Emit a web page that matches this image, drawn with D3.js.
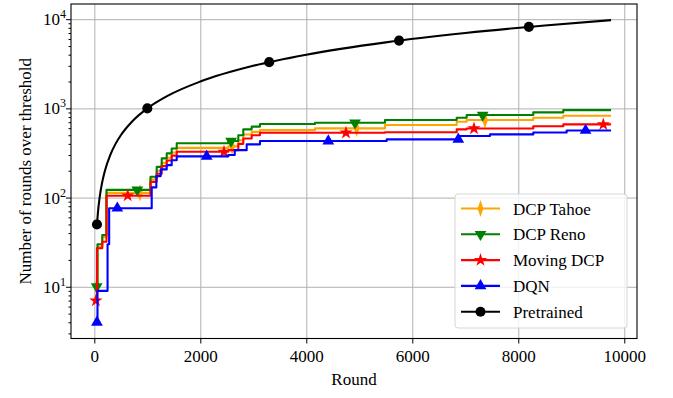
<!DOCTYPE html>
<html>
<head>
<meta charset="utf-8">
<script src="https://cdn.jsdelivr.net/npm/d3@7"></script>
<style>
  body { margin: 0; background: #fff; }
  svg text { font-family: "Liberation Serif", "DejaVu Serif", serif; fill: #000; }
  .gridLine line { stroke: #b0b0b0; stroke-width: 1; }
  .gridLine path { display: none; }
</style>
</head>
<body>
<div id="chart"></div>
<script>
// [round, value] pairs, drawn as steps
var tahoeSteps = [[45, 10], [60, 28], [150, 36], [230, 113], [1060, 160], [1177, 200], [1272, 245], [1366, 280], [1460, 320], [1555, 361],
  [2528, 375], [2717, 440], [2811, 510], [2970, 545], [3126, 571], [4164, 597], [5485, 650], [6838, 708], [7026, 740], [8283, 785], [8849, 826], [9750, 826]];
var renoSteps = [[45, 10], [60, 30], [150, 38], [230, 122], [1060, 171], [1177, 221], [1272, 275], [1366, 313], [1460, 355], [1555, 407],
  [2528, 430], [2717, 500], [2811, 582], [2970, 625], [3126, 667], [4164, 689], [5485, 740], [6838, 785], [7026, 842], [8283, 902], [8849, 955], [9750, 955]];
var movingSteps = [[30, 7], [50, 27], [150, 32], [230, 105], [1060, 150], [1177, 185], [1272, 225], [1366, 260], [1460, 295], [1555, 326],
  [2528, 340], [2717, 400], [2811, 460], [2970, 500], [3126, 533], [5485, 540], [6838, 582], [7026, 595], [8283, 631], [8849, 661], [9750, 661]];
var dqnSteps = [[50, 4], [60, 9], [215, 9], [250, 30], [280, 76], [1083, 130], [1170, 174], [1253, 207], [1366, 231], [1460, 262], [1555, 290],
  [2528, 300], [2650, 340], [2875, 395], [3126, 430], [5517, 449], [6900, 490], [7466, 511], [8283, 537], [8913, 566], [9750, 566]];
var pretrained = [[50, 50], [70, 70], [100, 100], [150, 150], [200, 200], [300, 300], [400, 400], [500, 500], [700, 700], [1000, 1000],
  [1400, 1400], [2000, 2000], [3000, 3000], [4000, 4000], [5500, 5500], [7000, 7000], [8500, 8500], [9750, 9750]];

// rounds where the markers sit
var tahoeMarks = [45, 862, 2600, 4950, 7372];
var renoMarks = [45, 811, 2580, 4919, 7328];
var movingMarks = [30, 630, 2447, 4749, 7164, 9604];
var dqnMarks = [50, 434, 2120, 4415, 6868, 9270];
var pretrainedMarks = [50, 1000, 3300, 5750, 8200];

var seriesNames = ["DCP Tahoe", "DCP Reno", "Moving DCP", "DQN", "Pretrained"];
var xTicks = [0, 2000, 4000, 6000, 8000, 10000];
var yTicks = [10, 100, 1000, 10000];

var width = 673;
var height = 398;
var margin = { top: 4, right: 36, bottom: 59.5, left: 71 };
var svg, xscale, yscale;

var series = [
  { name: seriesNames[0], color: "#ffa500", data: tahoeSteps, marks: tahoeMarks, marker: "diamond", step: true },
  { name: seriesNames[1], color: "#008000", data: renoSteps, marks: renoMarks, marker: "down", step: true },
  { name: seriesNames[2], color: "#ff0000", data: movingSteps, marks: movingMarks, marker: "star", step: true },
  { name: seriesNames[3], color: "#0000ff", data: dqnSteps, marks: dqnMarks, marker: "up", step: true },
  { name: seriesNames[4], color: "#000000", data: pretrained, marks: pretrainedMarks, marker: "circle", step: false }
];

function initSvg() {
  svg = d3.select("#chart").append("svg")
    .attr("width", width)
    .attr("height", height);
}

function initScale() {
  xscale = d3.scaleLinear()
    .domain([-440, 10240])
    .range([margin.left, width - margin.right]);
  yscale = d3.scaleLog()
    .domain([2.63, 14800])
    .range([height - margin.bottom, margin.top]);
}

function drawGridLines() {
  svg.append("g")
    .classed("gridLine", true)
    .attr("transform", "translate(0," + (height - margin.bottom) + ")")
    .call(d3.axisBottom(xscale).tickValues(xTicks)
      .tickSize(-(height - margin.bottom - margin.top)).tickFormat(""));
  svg.append("g")
    .classed("gridLine", true)
    .attr("transform", "translate(" + margin.left + ",0)")
    .call(d3.axisLeft(yscale).tickValues(yTicks)
      .tickSize(-(width - margin.right - margin.left)).tickFormat(""));
}

function drawAxis() {
  var xg = svg.append("g")
    .attr("transform", "translate(0," + (height - margin.bottom) + ")")
    .call(d3.axisBottom(xscale).tickValues(xTicks).tickFormat(d3.format("d"))
      .tickSize(5).tickPadding(6).tickSizeOuter(0));
  xg.attr("font-family", null);
  xg.select(".domain").remove();
  xg.selectAll("text").style("font-size", "17px");

  // log minor ticks
  var minor = [];
  [1, 10, 100, 1000].forEach(function (d) {
    for (var k = 2; k <= 9; k++) minor.push(d * k);
  });
  minor = minor.filter(function (v) { return v >= 2.63 && v <= 14800; });
  var yg = svg.append("g")
    .attr("transform", "translate(" + margin.left + ",0)")
    .call(d3.axisLeft(yscale).tickValues(minor).tickSize(2.5).tickFormat("").tickSizeOuter(0));
  yg.select(".domain").remove();
  var yg2 = svg.append("g")
    .attr("transform", "translate(" + margin.left + ",0)")
    .call(d3.axisLeft(yscale).tickValues(yTicks).tickSize(5).tickFormat("").tickSizeOuter(0));
  yg2.select(".domain").remove();
  yTicks.forEach(function (v) {
    var t = svg.append("text")
      .attr("x", margin.left - 5)
      .attr("y", yscale(v) + 6)
      .attr("text-anchor", "end")
      .style("font-size", "17px");
    t.append("tspan").text("10");
    t.append("tspan").attr("dy", -7).style("font-size", "12px").text(Math.round(Math.log10(v)));
  });

  // frame
  svg.append("rect")
    .attr("x", margin.left)
    .attr("y", margin.top)
    .attr("width", width - margin.left - margin.right)
    .attr("height", height - margin.top - margin.bottom)
    .attr("fill", "none")
    .attr("stroke", "#000")
    .attr("stroke-width", 1.1);

  svg.append("text")
    .attr("x", (margin.left + width - margin.right) / 2)
    .attr("y", 385)
    .attr("text-anchor", "middle")
    .style("font-size", "17px")
    .text("Round");
  svg.append("text")
    .attr("transform", "translate(31," + ((margin.top + height - margin.bottom) / 2) + ") rotate(-90)")
    .attr("text-anchor", "middle")
    .style("font-size", "17px")
    .text("Number of rounds over threshold");
}

function markerPath(kind) {
  if (kind === "circle") return d3.symbol().type(d3.symbolCircle).size(80)();
  if (kind === "star") return d3.symbol().type(d3.symbolStar).size(55)();
  if (kind === "diamond") return d3.symbol().type(d3.symbolDiamond).size(70)();
  return d3.symbol().type(d3.symbolTriangle).size(60)();
}

function markerTransform(kind, x, y) {
  var tr = "translate(" + x + "," + y + ")";
  if (kind === "down") tr += " rotate(180)";
  if (kind === "diamond") tr += " scale(0.65,1.1)";
  return tr;
}

function stepValue(data, r) {
  var v = data[0][1];
  data.forEach(function (d) { if (d[0] <= r) v = d[1]; });
  return v;
}

function drawLines() {
  series.forEach(function (s) {
    var line = d3.line()
      .x(function (d) { return xscale(d[0]); })
      .y(function (d) { return yscale(d[1]); })
      .curve(s.step ? d3.curveStepAfter : d3.curveMonotoneX);
    svg.append("path")
      .datum(s.data)
      .attr("d", line)
      .attr("fill", "none")
      .attr("stroke", s.color)
      .attr("stroke-width", 2.1)
      .attr("stroke-linejoin", "round");
    svg.append("g").selectAll("path")
      .data(s.marks)
      .enter().append("path")
      .attr("d", markerPath(s.marker))
      .attr("transform", function (r) {
        var v = s.step ? stepValue(s.data, r) : r;
        return markerTransform(s.marker, xscale(r), yscale(v));
      })
      .attr("fill", s.color);
  });
}

function drawLegend() {
  var lx = 455, ly = 194;
  svg.append("rect")
    .attr("x", lx).attr("y", ly)
    .attr("width", 172).attr("height", 134)
    .attr("rx", 3)
    .attr("fill", "#fff").attr("fill-opacity", 0.8)
    .attr("stroke", "#d6d6d6");
  series.forEach(function (s, i) {
    var cy = 208.5 + i * 25.8;
    svg.append("line")
      .attr("x1", 461).attr("x2", 500)
      .attr("y1", cy).attr("y2", cy)
      .attr("stroke", s.color).attr("stroke-width", 2.1);
    svg.append("path")
      .attr("d", markerPath(s.marker))
      .attr("transform", markerTransform(s.marker, 480.5, cy))
      .attr("fill", s.color);
    svg.append("text")
      .attr("x", 513)
      .attr("y", cy + 6)
      .style("font-size", "17px")
      .text(s.name);
  });
}

initSvg();
initScale();
drawGridLines();
drawAxis();
drawLines();
drawLegend();
</script>
</body>
</html>
